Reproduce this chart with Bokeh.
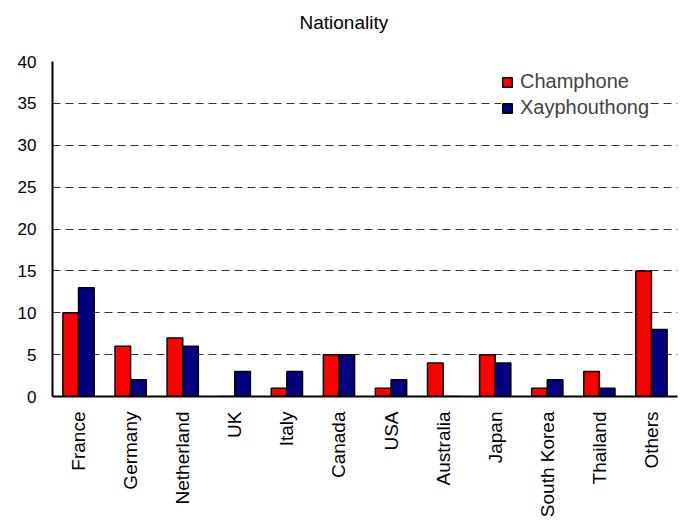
from bokeh.plotting import figure
from bokeh.models import FactorRange, Range1d, Legend, LegendItem, FixedTicker, ColumnDataSource, Title
from bokeh.transform import dodge
from bokeh.embed import file_html
from bokeh.resources import INLINE
import math

categories = ["France", "Germany", "Netherland", "UK", "Italy", "Canada", "USA",
              "Australia", "Japan", "South Korea", "Thailand", "Others"]
champhone = [10, 6, 7, 0, 1, 5, 1, 4, 5, 1, 3, 15]
xayphouthong = [13, 2, 6, 3, 3, 5, 2, 0, 4, 2, 1, 8]
y_ticks = [0, 5, 10, 15, 20, 25, 30, 35, 40]
title_text = "Nationality"

FONT = "Liberation Sans"

src = ColumnDataSource(dict(cat=categories, a=champhone, b=xayphouthong))

p = figure(width=680, height=520, x_range=FactorRange(*categories, range_padding=0),
           y_range=Range1d(0, 40), output_backend="svg", toolbar_location=None,
           min_border_left=52, min_border_right=3, min_border_top=61, min_border_bottom=122)
p.outline_line_color = None
p.background_fill_color = "white"
p.border_fill_color = "white"

r1 = p.vbar(x=dodge("cat", -0.15, range=p.x_range), top="a", width=0.3, source=src,
            fill_color="#FF0000", line_color="black", line_width=1.5)
r2 = p.vbar(x=dodge("cat", 0.15, range=p.x_range), top="b", width=0.3, source=src,
            fill_color="#000080", line_color="black", line_width=1.5)

p.xgrid.grid_line_color = None
p.ygrid.grid_line_color = "#333333"
p.ygrid.grid_line_dash = "8 5"
p.ygrid.grid_line_width = 1

p.yaxis.ticker = FixedTicker(ticks=y_ticks)
for ax in (p.xaxis[0], p.yaxis[0]):
    ax.axis_line_color = "black"
    ax.axis_line_width = 2
    ax.major_tick_line_color = None
    ax.minor_tick_line_color = None
    ax.major_tick_out = 0
    ax.major_tick_in = 0
    ax.major_label_text_font = FONT
    ax.major_label_text_color = "black"

p.yaxis.major_label_text_font_size = "17px"
p.yaxis.major_label_standoff = 16
p.xaxis.major_label_text_font_size = "19px"
p.xaxis.major_label_orientation = math.pi / 2
p.xaxis.major_label_standoff = 15

# title: a second (blank) line makes the title panel tall enough to sit near the top
title = Title(text=title_text + "\n ", text_font=FONT, text_font_size="19px",
              text_font_style="normal", text_color="black", standoff=12,
              align="left", offset=247, vertical_align="top")
p.add_layout(title, "above")

legend = Legend(items=[LegendItem(label="Champhone", renderers=[r1]),
                       LegendItem(label="Xayphouthong", renderers=[r2])],
                location=(449, 277))
legend.label_text_font = FONT
legend.label_text_font_size = "20px"
legend.glyph_width = 12
legend.glyph_height = 12
legend.label_height = 20
legend.label_standoff = 7
legend.spacing = 3
legend.padding = 8
legend.margin = 0
legend.border_line_color = None
legend.background_fill_color = "white"
legend.background_fill_alpha = 1
p.add_layout(legend, "center")

open("out.html", "w").write(file_html(p, INLINE))
